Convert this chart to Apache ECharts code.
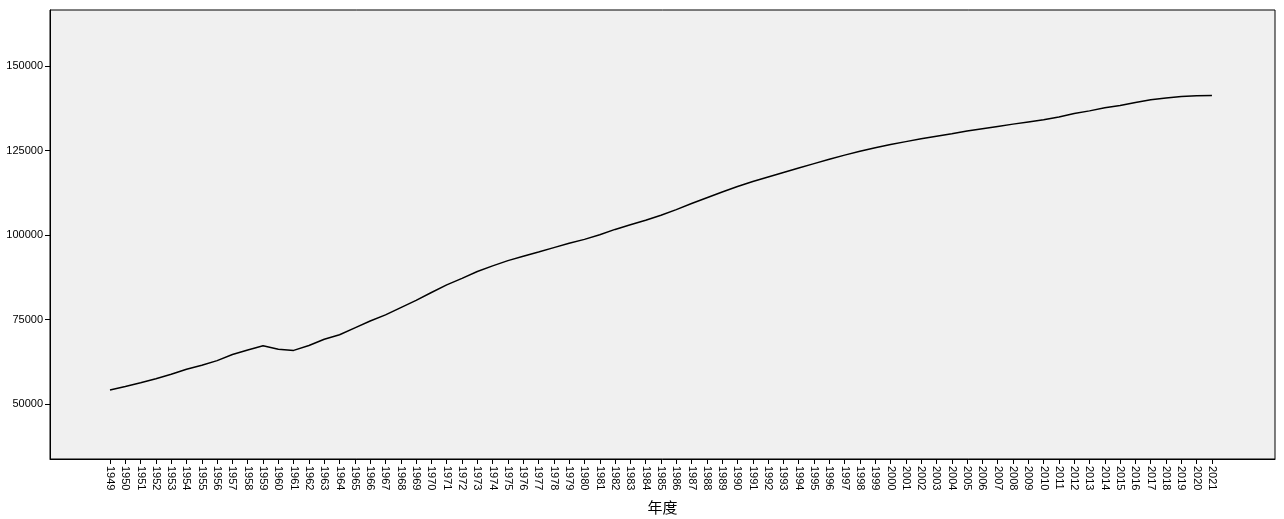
<!DOCTYPE html>
<html>
<head>
<meta charset="utf-8">
<script src="https://cdn.jsdelivr.net/npm/echarts@6/dist/echarts.min.js"></script>
<style>html,body{margin:0;padding:0;background:#fff}#c{width:1284px;height:519px}</style>
</head>
<body>
<div id="c"></div>
<script>
const years = [];
for (let y = 1949; y <= 2021; y++) years.push(y);
const population = [54167,55196,56300,57482,58796,60266,61465,62828,64653,65994,67207,66207,65859,67296,69172,70499,72538,74542,76368,78534,80671,82992,85229,87177,89211,90859,92420,93717,94974,96259,97542,98705,100072,101654,103008,104357,105851,107507,109300,111026,112704,114333,115823,117171,118517,119850,121121,122389,123626,124761,125786,126743,127627,128453,129227,129988,130756,131448,132129,132802,133450,134091,134916,135922,136726,137646,138326,139232,140011,140541,141008,141212,141260];
const yTicks = [50000,75000,100000,125000,150000];
const xName = '年度';

const chart = echarts.init(document.getElementById('c'));
chart.setOption({
  animation: false,
  backgroundColor: '#ffffff',
  grid: {left: 50, right: 9, top: 10, bottom: 60, outerBoundsMode: 'none', containLabel: false, show: true, backgroundColor: '#F0F0F0', borderColor: '#000', borderWidth: 1},
  xAxis: {
    type: 'value', min: 1945.08, max: 2025.12,
    name: xName, nameLocation: 'middle', nameGap: 41,
    nameTextStyle: {fontFamily: 'Noto Sans CJK SC', fontSize: 15, color: '#000'},
    axisLine: {show: true, lineStyle: {color: '#000', width: 1}},
    axisTick: {show: true, length: 5, lineStyle: {color: '#000'}, customValues: years},
    axisLabel: {show: true, rotate: -90, customValues: years, margin: 7, fontFamily: 'Liberation Sans', fontSize: 11, color: '#000', formatter: v => String(v)},
    splitLine: {show: false}
  },
  yAxis: {
    type: 'value', min: 33728, max: 166568,
    axisLine: {show: true, lineStyle: {color: '#000', width: 1}},
    axisTick: {show: true, length: 5, lineStyle: {color: '#000'}, customValues: yTicks},
    axisLabel: {show: true, customValues: yTicks, margin: 7, fontFamily: 'Liberation Sans', fontSize: 11, color: '#000', formatter: v => String(v)},
    splitLine: {show: false}
  },
  series: [{
    type: 'line', showSymbol: false, symbol: 'none',
    data: years.map((y, i) => [y, population[i]]),
    lineStyle: {color: '#000', width: 1.5}
  }]
});
</script>
</body>
</html>
